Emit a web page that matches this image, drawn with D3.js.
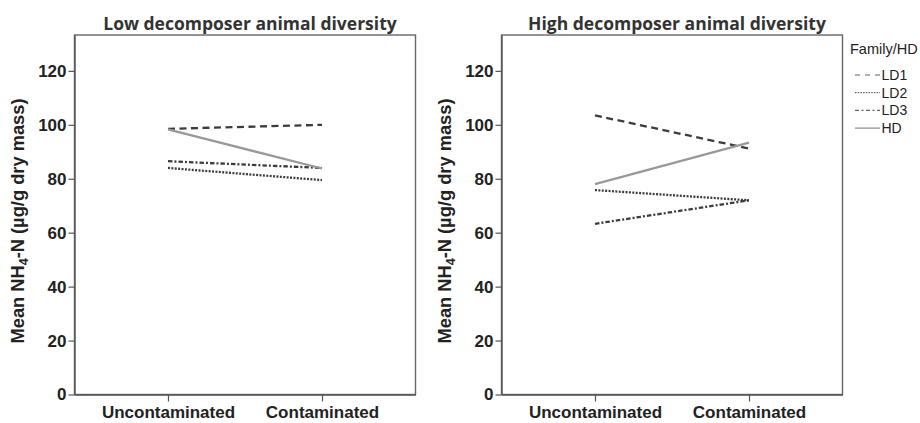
<!DOCTYPE html>
<html>
<head>
<meta charset="utf-8">
<script src="https://cdn.jsdelivr.net/npm/d3@7"></script>
<style>
  body { margin: 0; background: #fff; }
  svg { display: block; }
</style>
</head>
<body>
<svg id="chart" width="920" height="423"></svg>
<script>
// Soil treatment categories on the x axis
const categories = ["Uncontaminated", "Contaminated"];
// Faunal community series
const seriesNames = ["LD1", "LD2", "LD3", "HD"];
// Mean NH4-N per series, low decomposer animal diversity
const lowLD1 = [98.5, 100.0];
const lowLD2 = [84.0, 79.5];
const lowLD3 = [86.5, 84.0];
const lowHD  = [98.3, 83.8];
// Mean NH4-N per series, high decomposer animal diversity
const highLD1 = [103.5, 91.2];
const highLD2 = [75.8, 72.0];
const highLD3 = [63.3, 72.0];
const highHD  = [78.0, 93.4];
// Y axis ticks
const yTicks = [0, 20, 40, 60, 80, 100, 120];
const yMax = 133.3;
const panelTitles = ["Low decomposer animal diversity", "High decomposer animal diversity"];
const legendTitle = "Family/HD";

const panels = [
  { title: panelTitles[0], values: [lowLD1, lowLD2, lowLD3, lowHD], left: 74.5 },
  { title: panelTitles[1], values: [highLD1, highLD2, highLD3, highHD], left: 501.5 }
];

const styles = {
  LD1: { color: "#3c3c3c", dash: "7,4.5", width: 2.3 },
  LD2: { color: "#3c3c3c", dash: "2,1.4", width: 2.3 },
  LD3: { color: "#3c3c3c", dash: "4.5,2,2,2", width: 2.3 },
  HD:  { color: "#999", dash: null, width: 2.3 }
};
const legendStyles = {
  LD1: { dash: "5,5" },
  LD2: { dash: "1.5,1.2" },
  LD3: { dash: "4,2.5,2,2.5" },
  HD:  { dash: null }
};

const svg = d3.select("#chart");
const plotW = 341, plotTop = 35, plotBottom = 394.5;
const y = d3.scaleLinear().domain([0, yMax]).range([plotBottom, plotTop]);

panels.forEach(p => {
  const g = svg.append("g");
  const x = d3.scalePoint().domain(categories)
    .range([p.left, p.left + plotW]).padding(0.607);

  // plot frame
  g.append("rect")
    .attr("x", p.left).attr("y", plotTop)
    .attr("width", plotW).attr("height", plotBottom - plotTop)
    .attr("fill", "none").attr("stroke", "#666").attr("stroke-width", 1.4);

  // y axis
  const yAxis = g.append("g")
    .attr("transform", `translate(${p.left},0)`)
    .call(d3.axisLeft(y).tickValues(yTicks).tickSize(6).tickSizeOuter(0)
      .tickPadding(2).tickFormat(d3.format("d")));
  yAxis.select(".domain").attr("stroke", "#555").attr("stroke-width", 1.4);
  yAxis.selectAll(".tick line").attr("stroke", "#555").attr("stroke-width", 1.2);
  yAxis.selectAll("text")
    .attr("fill", "#222")
    .style("font", "bold 17px 'Liberation Sans', Arial, sans-serif");

  // x axis
  const xAxis = g.append("g")
    .attr("transform", `translate(0,${plotBottom})`)
    .call(d3.axisBottom(x).tickSize(7).tickSizeOuter(0).tickPadding(4));
  xAxis.select(".domain").attr("stroke", "#555").attr("stroke-width", 1.4);
  xAxis.selectAll(".tick line").attr("stroke", "#555").attr("stroke-width", 1.2);
  xAxis.selectAll("text")
    .attr("fill", "#222")
    .style("font", "bold 17px 'Liberation Sans', Arial, sans-serif");

  // title
  g.append("text")
    .attr("x", p.left + plotW / 2 + 5).attr("y", 29.5)
    .attr("text-anchor", "middle")
    .attr("fill", "#333")
    .style("font", "bold 17.5px 'Open Sans', sans-serif")
    .text(p.title);

  // y axis label with subscript
  const lab = g.append("text")
    .attr("transform", `translate(${p.left - 51},221) rotate(-90)`)
    .attr("text-anchor", "middle")
    .attr("fill", "#222")
    .style("font", "bold 18.3px 'Liberation Sans', Arial, sans-serif");
  lab.append("tspan").text("Mean NH");
  lab.append("tspan").attr("dy", 4).style("font-size", "12.5px").text("4");
  lab.append("tspan").attr("dy", -4).text("-N (µg/g dry mass)");

  // series lines
  const line = d3.line().x((d, i) => x(categories[i])).y(d => y(d));
  seriesNames.forEach((name, si) => {
    const s = styles[name];
    g.append("path")
      .datum(p.values[si])
      .attr("d", line)
      .attr("fill", "none")
      .attr("stroke", s.color)
      .attr("stroke-width", s.width)
      .attr("stroke-dasharray", s.dash);
  });
});

// legend
const lg = svg.append("g");
lg.append("text")
  .attr("x", 850).attr("y", 54)
  .attr("fill", "#222")
  .style("font", "14.5px 'Liberation Sans', Arial, sans-serif")
  .text(legendTitle);
seriesNames.forEach((name, i) => {
  const cy = 75 + i * 17.7;
  lg.append("line")
    .attr("x1", 855).attr("x2", 880)
    .attr("y1", cy).attr("y2", cy)
    .attr("stroke", name === "HD" ? "#888" : "#666")
    .attr("stroke-width", 1.2)
    .attr("stroke-dasharray", legendStyles[name].dash);
  lg.append("text")
    .attr("x", 881.5).attr("y", cy + 5)
    .attr("fill", "#222")
    .style("font", "14px 'Liberation Sans', Arial, sans-serif")
    .text(name);
});
</script>
</body>
</html>
